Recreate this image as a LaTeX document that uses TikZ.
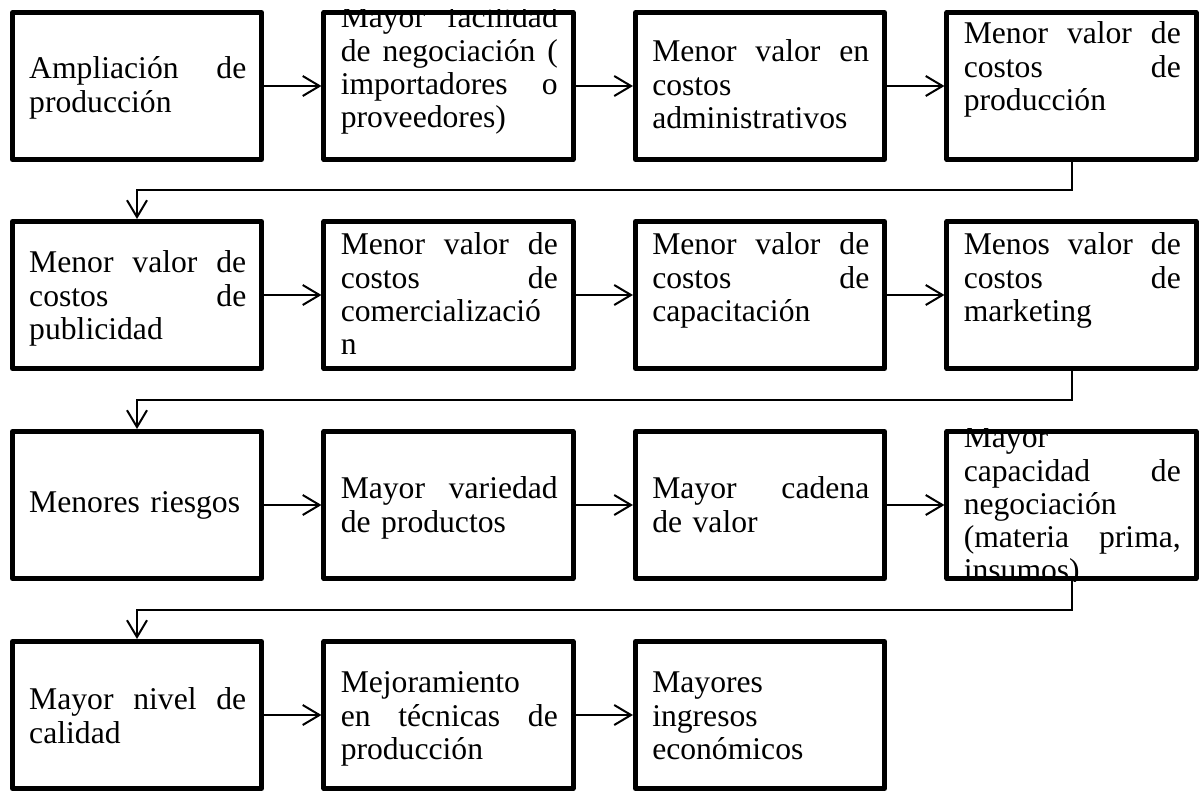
\documentclass[tikz,border=0pt]{standalone}
\usepackage{fontspec}
\setmainfont{Liberation Serif}
\usepackage{tikz}
\usetikzlibrary{arrows.meta}
% justified line
\newcommand{\jl}[1]{\makebox[\linewidth][s]{\spaceskip=0.25em plus 1fil\relax #1}}

\begin{document}
\begin{tikzpicture}[x=0.025cm,y=-0.025cm,
    caja/.style={draw, line width=0.125cm, line join=round, inner sep=0pt,
        minimum width=6.225cm, minimum height=3.675cm},
    txt/.style={anchor=base west, text width=5.425cm, inner sep=0pt, align=left,
        font=\fontsize{22.5}{23.6}\selectfont},
    link/.style={line width=0.05cm, -{Straight Barb[length=0.42cm,width=0.5cm]}}]
    \useasboundingbox (0,0) rectangle (1202,791);
    % boxes
    \node[caja] (b1) at (137,86) {};
    \node[caja] (b2) at (448.5,86) {};
    \node[caja] (b3) at (760,86) {};
    \node[caja] (b4) at (1071.5,86) {};
    \node[caja] (b5) at (137,295) {};
    \node[caja] (b6) at (448.5,295) {};
    \node[caja] (b7) at (760,295) {};
    \node[caja] (b8) at (1071.5,295) {};
    \node[caja] (b9) at (137,505) {};
    \node[caja] (b10) at (448.5,505) {};
    \node[caja] (b11) at (760,505) {};
    \node[caja] (b12) at (1071.5,505) {};
    \node[caja] (b13) at (137,715) {};
    \node[caja] (b14) at (448.5,715) {};
    \node[caja] (b15) at (760,715) {};
    % texts
    \node[txt] (t1) at ([shift={(19,69)}]b1.north west) {\jl{Ampliación de}\\producción};
    \begin{scope}
        \clip (b2.north west) rectangle (b2.south east);
        \node[txt] (t2) at ([shift={(19,18)}]b2.north west) {\jl{Mayor facilidad}\\\jl{de negociación (}\\\jl{importadores o}\\proveedores)};
    \end{scope}
    \node[txt] (t3) at ([shift={(19,52)}]b3.north west) {\jl{Menor valor en}\\costos\\administrativos};
    \node[txt] (t4) at ([shift={(19,34)}]b4.north west) {\jl{Menor valor de}\\\jl{costos de}\\producción};
    \node[txt] (t5) at ([shift={(19,54)}]b5.north west) {\jl{Menor valor de}\\\jl{costos de}\\publicidad};
    \node[txt] (t6) at ([shift={(19,36)}]b6.north west) {\jl{Menor valor de}\\\jl{costos de}\\comercializació\\n};
    \node[txt] (t7) at ([shift={(19,36)}]b7.north west) {\jl{Menor valor de}\\\jl{costos de}\\capacitación};
    \node[txt] (t8) at ([shift={(19,36)}]b8.north west) {\jl{Menos valor de}\\\jl{costos de}\\marketing};
    \node[txt] (t9) at ([shift={(19,84)}]b9.north west) {Menores riesgos};
    \node[txt] (t10) at ([shift={(19,70)}]b10.north west) {\jl{Mayor variedad}\\de productos};
    \node[txt] (t11) at ([shift={(19,70)}]b11.north west) {\jl{Mayor cadena}\\de valor};
    \begin{scope}
        \clip (b12.north west) rectangle (b12.south east);
        \node[txt] (t12) at ([shift={(19,19)}]b12.north west) {Mayor\\\jl{capacidad de}\\negociación\\\jl{(materia prima,}\\insumos)};
    \end{scope}
    \node[txt] (t13) at ([shift={(19,71)}]b13.north west) {\jl{Mayor nivel de}\\calidad};
    \node[txt] (t14) at ([shift={(19,54)}]b14.north west) {Mejoramiento\\\jl{en técnicas de}\\producción};
    \node[txt] (t15) at ([shift={(19,54)}]b15.north west) {Mayores\\ingresos\\económicos};
    % arrows
    \draw[link] (b1) -- (b2);
    \draw[link] (b2) -- (b3);
    \draw[link] (b3) -- (b4);
    \draw[link] (b4.south) -- ++(0,28) -| (b5.north);
    \draw[link] (b5) -- (b6);
    \draw[link] (b6) -- (b7);
    \draw[link] (b7) -- (b8);
    \draw[link] (b8.south) -- ++(0,29) -| (b9.north);
    \draw[link] (b9) -- (b10);
    \draw[link] (b10) -- (b11);
    \draw[link] (b11) -- (b12);
    \draw[link] (b12.south) -- ++(0,29) -| (b13.north);
    \draw[link] (b13) -- (b14);
    \draw[link] (b14) -- (b15);
\end{tikzpicture}
\end{document}
